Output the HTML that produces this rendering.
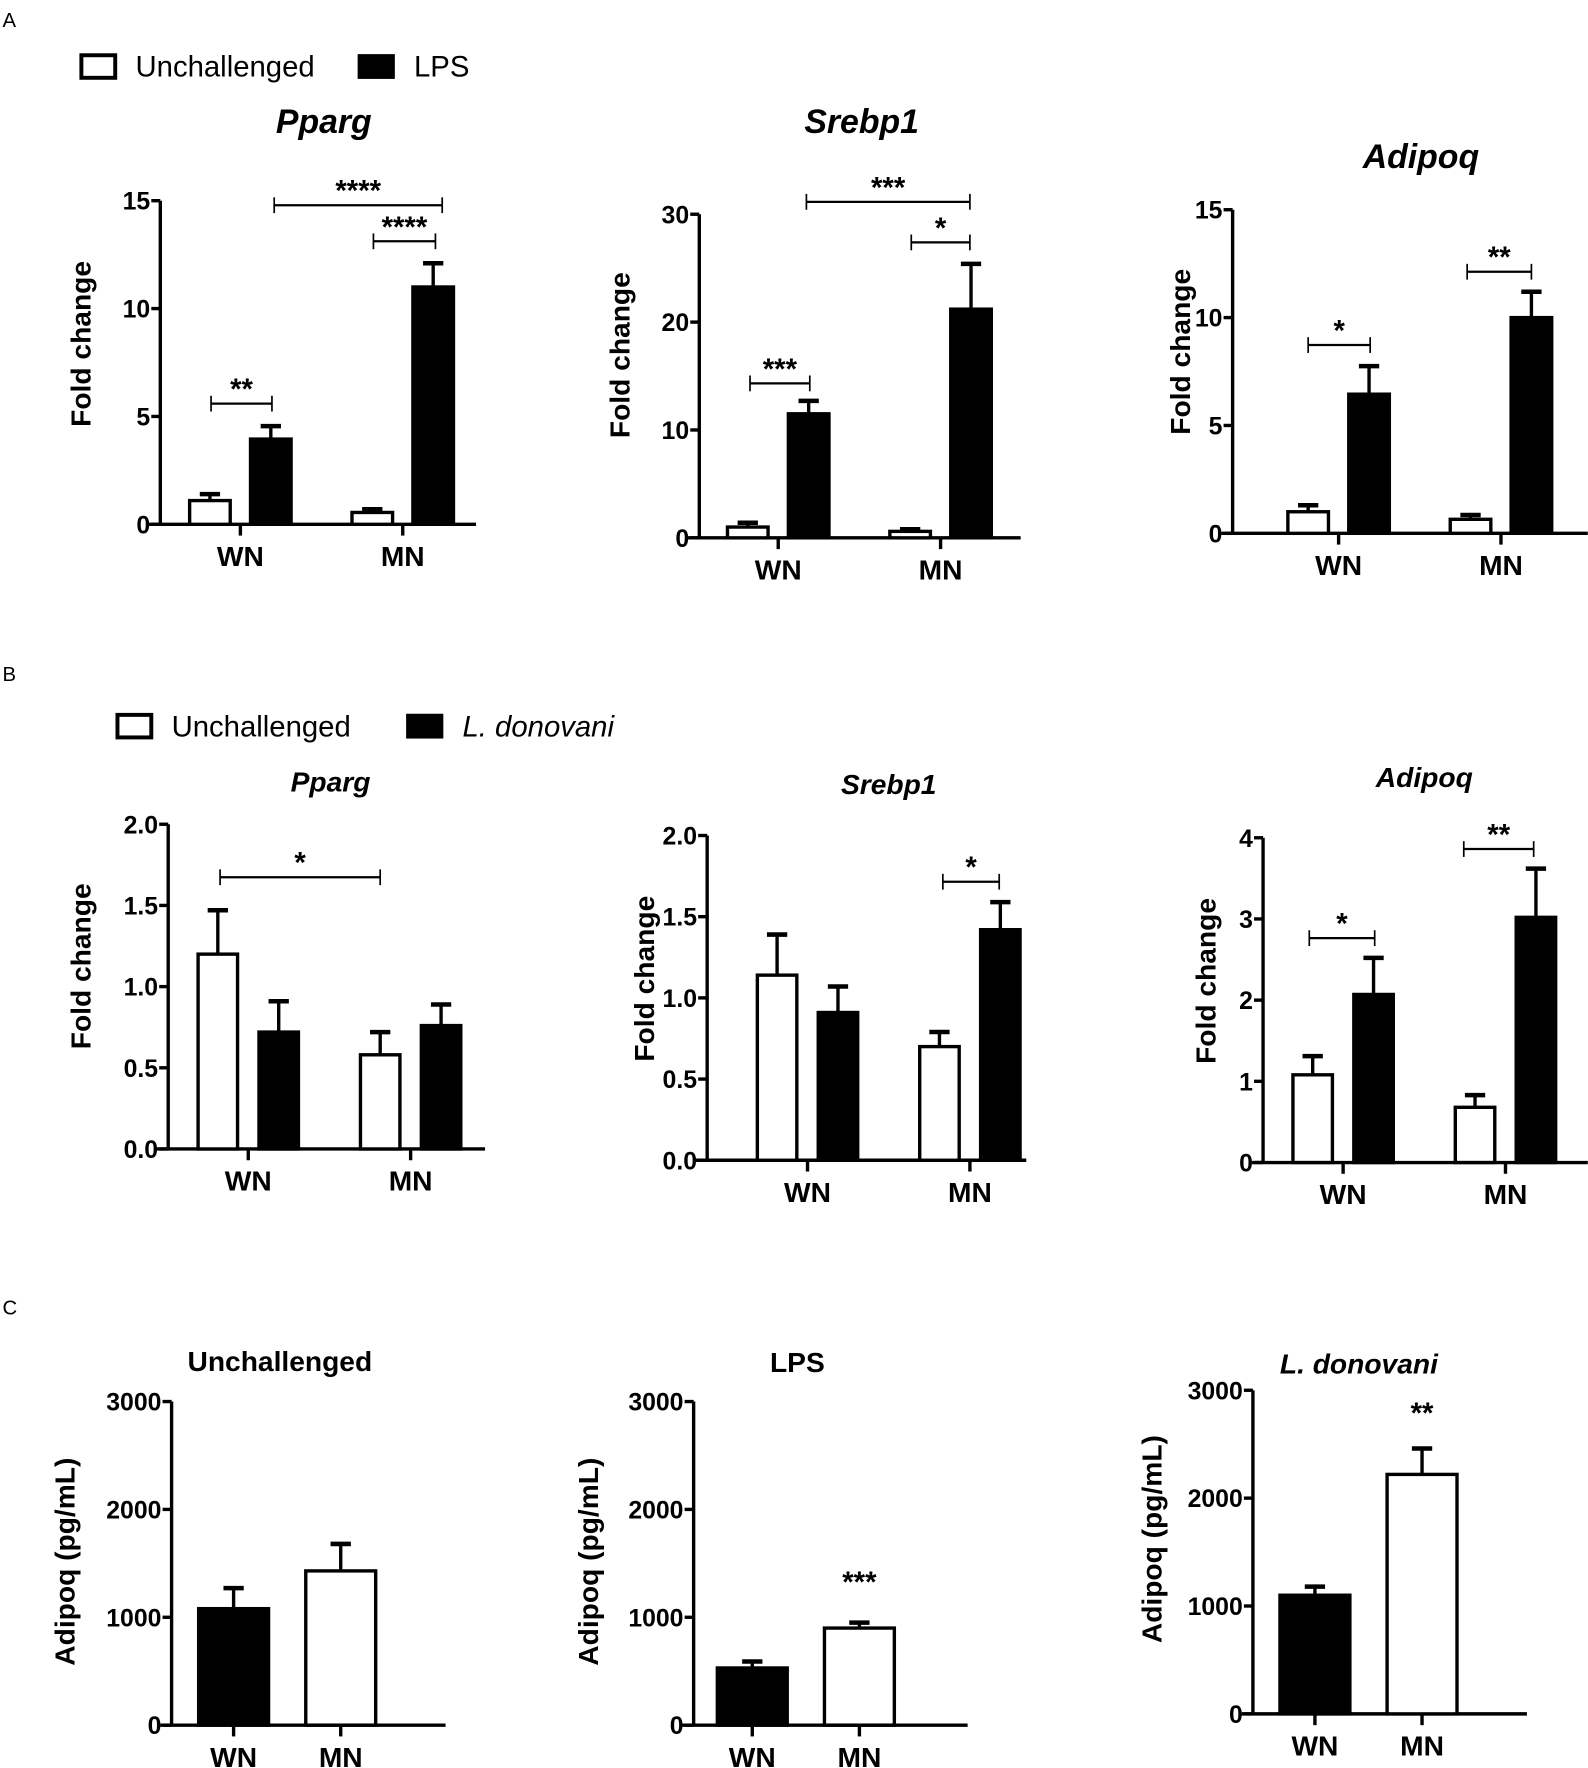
<!DOCTYPE html>
<html><head><meta charset="utf-8"><style>
html,body{margin:0;padding:0;background:#fff}
svg{display:block}
text{font-family:"Liberation Sans",Arial,sans-serif}
</style></head><body>
<svg id="fig" width="1588" height="1768" viewBox="0 0 1408 1568" xmlns="http://www.w3.org/2000/svg">
<g id="root"></g>
</svg>
<script>
// ---- data ----
const groups = ["WN","MN"];
const A_pparg_unch = [1.1, 0.55], A_pparg_unch_err = [0.3, 0.15];
const A_pparg_lps = [3.95, 11.0], A_pparg_lps_err = [0.6, 1.1];
const A_srebp_unch = [1.0, 0.6], A_srebp_unch_err = [0.4, 0.2];
const A_srebp_lps = [11.5, 21.2], A_srebp_lps_err = [1.2, 4.2];
const A_adipoq_unch = [1.0, 0.65], A_adipoq_unch_err = [0.3, 0.2];
const A_adipoq_lps = [6.45, 10.0], A_adipoq_lps_err = [1.3, 1.2];
const B_pparg_unch = [1.2, 0.58], B_pparg_unch_err = [0.27, 0.14];
const B_pparg_ld = [0.72, 0.76], B_pparg_ld_err = [0.19, 0.13];
const B_srebp_unch = [1.14, 0.70], B_srebp_unch_err = [0.25, 0.09];
const B_srebp_ld = [0.91, 1.42], B_srebp_ld_err = [0.16, 0.17];
const B_adipoq_unch = [1.08, 0.68], B_adipoq_unch_err = [0.23, 0.15];
const B_adipoq_ld = [2.07, 3.02], B_adipoq_ld_err = [0.45, 0.6];
const C_unch = [1080, 1430], C_unch_err = [190, 250];
const C_lps = [530, 900], C_lps_err = [60, 50];
const C_ld = [1100, 2220], C_ld_err = [80, 240];
const ticks15 = ["0","5","10","15"], ticks30 = ["0","10","20","30"];
const ticks2 = ["0.0","0.5","1.0","1.5","2.0"], ticks4 = ["0","1","2","3","4"];
const ticks3000 = ["0","1000","2000","3000"];

const NS="http://www.w3.org/2000/svg";
const root=document.getElementById('root');
function mk(tag,attrs,parent,txt){const e=document.createElementNS(NS,tag);for(const k in attrs)e.setAttribute(k,attrs[k]);if(txt!==undefined)e.textContent=txt;(parent||root).appendChild(e);return e;}

function chart(o){
  const g=mk('g',{});
  
  
  const max=parseFloat(o.ticks[o.ticks.length-1]);
  const y=v=>o.y0-(v/max)*(o.y0-o.yTop);
  const t=mk('text',{x:o.tx,y:o.ty,'text-anchor':'middle','font-size':o.tfs,'font-weight':'bold','font-style':o.titalic?'italic':'normal'},g,o.title);
  
  
  const yl=mk('text',{x:0,y:0,transform:`translate(${o.ylx},${o.yly}) rotate(-90)`,'text-anchor':'middle','font-size':o.ylfs||25,'font-weight':'bold'},g,o.ylabel);
  
  
  const ya=mk('line',{x1:o.ax,y1:o.yTop,x2:o.ax,y2:o.y0,stroke:'#000','stroke-width':3},g);
  
  
  o.ticks.forEach(tk=>{const v=parseFloat(tk);const yy=y(v);
    mk('line',{x1:o.ax-8,y1:yy,x2:o.ax,y2:yy,stroke:'#000','stroke-width':3},g);
    const tl=mk('text',{x:o.ax-9,y:yy+8,'text-anchor':'end','font-size':22,'font-weight':'bold'},g,tk);
    
    
  });
  const xa=mk('line',{x1:o.ax-10,y1:o.y0,x2:o.xEnd,y2:o.y0,stroke:'#000','stroke-width':3},g);
  
  
  groups.forEach((gr,i)=>{
    const cx=o.gx[i];
    mk('line',{x1:cx,y1:o.y0,x2:cx,y2:o.y0+10,stroke:'#000','stroke-width':3},g);
    const xl=mk('text',{x:cx,y:o.y0+37,'text-anchor':'middle','font-size':25,'font-weight':'bold'},g,gr);
    
    
    o.series.forEach((s,si)=>{
      const bx=cx+s.off;const v=s.vals[i],e=s.err[i];
      const top=y(v);
      const ebar=mk('line',{x1:bx,y1:y(v+e),x2:bx,y2:top,stroke:'#000','stroke-width':3},g);
      
      
      mk('line',{x1:bx-9,y1:y(v+e),x2:bx+9,y2:y(v+e),stroke:'#000','stroke-width':4},g);
      const r=mk('rect',{x:bx-o.bw/2,y:top,width:o.bw,height:o.y0-top,fill:s.fill,stroke:'#000','stroke-width':3},g);
      
      
    });
  });
  (o.sig||[]).forEach(s=>{
    if(s.x1!==undefined){
      mk('line',{x1:s.x1,y1:s.y,x2:s.x2,y2:s.y,stroke:'#000','stroke-width':2},g);
      mk('line',{x1:s.x1,y1:s.y-7,x2:s.x1,y2:s.y+7,stroke:'#000','stroke-width':1.5},g);
      mk('line',{x1:s.x2,y1:s.y-7,x2:s.x2,y2:s.y+7,stroke:'#000','stroke-width':1.5},g);
    }
    const cx=s.x1!==undefined?(s.x1+s.x2)/2:s.cx;
    const st=mk('text',{x:cx,y:s.y-4,'text-anchor':'middle','font-size':26,'font-weight':'bold'},g,s.label);
    
    
  });
}
function pair(unch,ue,ch,ce,key){return [{key:'unchallenged',vals:unch,err:ue,fill:'#fff',off:-27},{key:key,vals:ch,err:ce,fill:'#000',off:27}];}

[['A',18],['B',598],['C',1160]].forEach(([l,yy])=>{const t=mk('text',{x:2,y:yy+6,'font-size':18},root,l);});

function legend(y,x1,t1,x2,t2,ital,name){
  const g=mk('g',{});
  mk('rect',{x:x1,y:y-10,width:30,height:20,fill:'#fff',stroke:'#000','stroke-width':3.5},g);
  mk('text',{x:x1+48,y:y+9,'font-size':26},g,t1);
  mk('rect',{x:x2,y:y-11,width:33,height:22,fill:'#000'},g);
  mk('text',{x:x2+50,y:y+9,'font-size':26,'font-style':ital?'italic':'normal'},g,t2);
}
legend(59,72,'Unchallenged',317,'LPS',false,'legend-a');
legend(644,104,'Unchallenged',360,'L. donovani',true,'legend-b');

chart({name:'chart-a-pparg',title:'Pparg',titalic:true,tx:287,ty:118,tfs:30,ylabel:'Fold change',ylx:80,yly:305,ax:142,y0:465,yTop:178,xEnd:422,gx:[213,357],bw:36,ticks:ticks15,series:pair(A_pparg_unch,A_pparg_unch_err,A_pparg_lps,A_pparg_lps_err,'lps'),
 sig:[{x1:187,x2:241,y:358,label:'**'},{x1:243,x2:392,y:182,label:'****'},{x1:331,x2:386,y:214,label:'****'}]});
chart({name:'chart-a-srebp1',title:'Srebp1',titalic:true,tx:764,ty:118,tfs:30,ylabel:'Fold change',ylx:558,yly:315,ax:620,y0:477,yTop:190,xEnd:905,gx:[690,834],bw:36,ticks:ticks30,series:pair(A_srebp_unch,A_srebp_unch_err,A_srebp_lps,A_srebp_lps_err,'lps'),
 sig:[{x1:665,x2:718,y:340,label:'***'},{x1:715,x2:860,y:179,label:'***'},{x1:808,x2:860,y:215,label:'*'}]});
chart({name:'chart-a-adipoq',title:'Adipoq',titalic:true,tx:1260,ty:149,tfs:30,ylabel:'Fold change',ylx:1055,yly:312,ax:1093,y0:473,yTop:186,xEnd:1408,gx:[1187,1331],bw:36,ticks:ticks15,series:pair(A_adipoq_unch,A_adipoq_unch_err,A_adipoq_lps,A_adipoq_lps_err,'lps'),
 sig:[{x1:1160,x2:1215,y:306,label:'*'},{x1:1301,x2:1358,y:241,label:'**'}]});

chart({name:'chart-b-pparg',title:'Pparg',titalic:true,tx:293,ty:702,tfs:25,ylabel:'Fold change',ylx:80,yly:857,ax:149,y0:1019,yTop:731,xEnd:430,gx:[220,364],bw:35,ticks:ticks2,series:pair(B_pparg_unch,B_pparg_unch_err,B_pparg_ld,B_pparg_ld_err,'l-donovani'),
 sig:[{x1:195,x2:337,y:778,label:'*'}]});
chart({name:'chart-b-srebp1',title:'Srebp1',titalic:true,tx:788,ty:704,tfs:25,ylabel:'Fold change',ylx:580,yly:868,ax:627,y0:1029,yTop:741,xEnd:910,gx:[716,860],bw:35,ticks:ticks2,series:pair(B_srebp_unch,B_srebp_unch_err,B_srebp_ld,B_srebp_ld_err,'l-donovani'),
 sig:[{x1:836,x2:886,y:782,label:'*'}]});
chart({name:'chart-b-adipoq',title:'Adipoq',titalic:true,tx:1263,ty:698,tfs:25,ylabel:'Fold change',ylx:1078,yly:870,ax:1120,y0:1031,yTop:743,xEnd:1408,gx:[1191,1335],bw:35,ticks:ticks4,series:pair(B_adipoq_unch,B_adipoq_unch_err,B_adipoq_ld,B_adipoq_ld_err,'l-donovani'),
 sig:[{x1:1161,x2:1219,y:832,label:'*'},{x1:1298,x2:1360,y:753,label:'**'}]});

function cchart(o,vals,errs){
  o.series=[{key:'value',vals:vals,err:errs,fill:'#000',off:0}];
  chart(o);
  const bars=root.lastChild.querySelectorAll('rect');
  bars[1].setAttribute('fill','#fff');
}
cchart({name:'chart-c-unchallenged',title:'Unchallenged',titalic:false,tx:248,ty:1216,tfs:25,ylabel:'Adipoq (pg/mL)',ylx:66,yly:1385,ylfs:25,ax:152,y0:1530,yTop:1243,xEnd:395,gx:[207,302],bw:62,ticks:ticks3000},C_unch,C_unch_err);
cchart({name:'chart-c-lps',title:'LPS',titalic:false,tx:707,ty:1217,tfs:25,ylabel:'Adipoq (pg/mL)',ylx:530,yly:1385,ylfs:25,ax:615,y0:1530,yTop:1243,xEnd:858,gx:[667,762],bw:62,ticks:ticks3000,sig:[{cx:762,y:1416,label:'***'}]},C_lps,C_lps_err);
cchart({name:'chart-c-l-donovani',title:'L. donovani',titalic:true,tx:1205,ty:1218,tfs:25,ylabel:'Adipoq (pg/mL)',ylx:1030,yly:1365,ylfs:25,ax:1111,y0:1520,yTop:1233,xEnd:1354,gx:[1166,1261],bw:62,ticks:ticks3000,sig:[{cx:1261,y:1266,label:'**'}]},C_ld,C_ld_err);
</script>
</body></html>
